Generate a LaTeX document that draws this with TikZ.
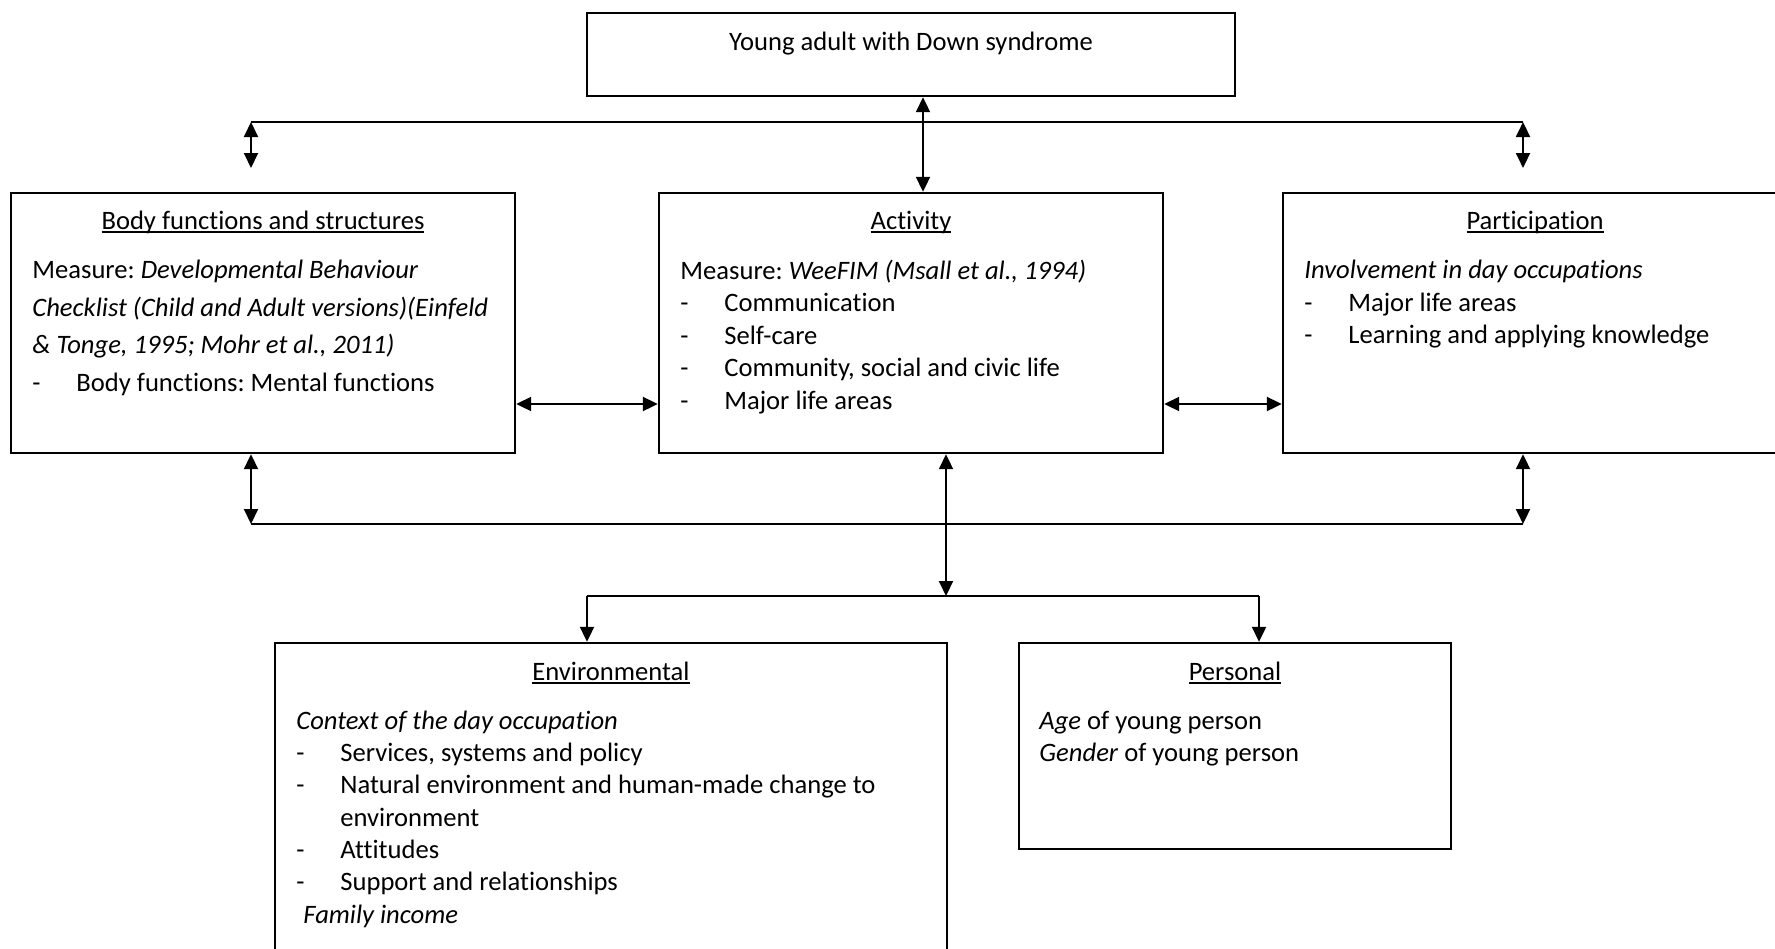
\documentclass[tikz,border=0pt]{standalone}
\usepackage{fontspec}
\setmainfont{Carlito}[Ligatures={NoCommon,NoContextual}]
\usetikzlibrary{arrows.meta,fit}
\frenchspacing
\newcommand\fsz{\fontsize{13.3}{16}\selectfont\frenchspacing}
\newcommand\dashit[1]{\makebox[22pt][l]{-}#1}
\newsavebox\ulbox
\newcommand\ulx[1]{\sbox\ulbox{#1}\rlap{\rule[-1.9pt]{\wd\ulbox}{0.8pt}}\usebox\ulbox}
\begin{document}
\begin{tikzpicture}[x=0.5pt,y=-0.5pt,
  box/.style={draw, line width=1.2pt, inner sep=0pt},
  txt/.style={anchor=base west, inner sep=0pt, font=\fsz},
  ttl/.style={anchor=base, inner sep=0pt, font=\fsz},
  conn/.style={line width=1pt},
  dbl/.style={line width=1pt, {Triangle[length=7.5pt,width=7pt]}-{Triangle[length=7.5pt,width=7pt]}},
  sgl/.style={line width=1pt, -{Triangle[length=7.5pt,width=7pt]}}]
\useasboundingbox (0,0) rectangle (1775,948);
\fill[white] (0,0) rectangle (1775,948);
\clip (0,0) rectangle (1775,948);

% boxes
\node[box, fit={(587,13) (1235,96)}] (top) {};
\node[box, fit={(11,193) (515,453)}] (body) {};
\node[box, fit={(659,193) (1163,453)}] (act) {};
\node[box, fit={(1283,193) (1787,453)}] (part) {};
\node[box, fit={(275,643) (947,975)}] (env) {};
\node[box, fit={(1019,643) (1451,849)}] (pers) {};

% texts
\node[ttl] (ttop) at (911,50) {Young adult with Down syndrome};

\node[ttl] (tbody) at (263,229) {\ulx{Body functions and structures}};
\node[txt] (b1) at (32,278) {Measure: \textit{Developmental Behaviour}};
\node[txt] (b2) at (32,316) {\textit{Checklist (Child and Adult versions)(Einfeld}};
\node[txt] (b3) at (32,353) {\textit{\& Tonge, 1995; Mohr et al., 2011)}};
\node[txt] (b4) at (32,391) {\dashit{Body functions: Mental functions}};

\node[ttl] (tact) at (911,229) {\ulx{Activity}};
\node[txt] (a1) at (680,279) {Measure: \textit{WeeFIM (Msall et al., 1994)}};
\node[txt] (a2) at (680,311.5) {\dashit{Communication}};
\node[txt] (a3) at (680,344) {\dashit{Self-care}};
\node[txt] (a4) at (680,376.5) {\dashit{Community, social and civic life}};
\node[txt] (a5) at (680,409) {\dashit{Major life areas}};

\node[ttl] (tpart) at (1535,229) {\ulx{Participation}};
\node[txt] (p1) at (1304,278) {\textit{Involvement in day occupations}};
\node[txt] (p2) at (1304,311) {\dashit{Major life areas}};
\node[txt] (p3) at (1304,343) {\dashit{Learning and applying knowledge}};

\node[ttl] (tenv) at (611,680) {\ulx{Environmental}};
\node[txt] (e1) at (296,729) {\textit{Context of the day occupation}};
\node[txt] (e2) at (296,761.3) {\dashit{Services, systems and policy}};
\node[txt] (e3) at (296,793.6) {\dashit{Natural environment and human-made change to}};
\node[txt] (e4) at (296,826) {\hspace*{22pt}environment};
\node[txt] (e5) at (296,858.3) {\dashit{Attitudes}};
\node[txt] (e6) at (296,890.6) {\dashit{Support and relationships}};
\node[txt] (e7) at (303,923) {\textit{Family income}};

\node[ttl] (tpers) at (1235,680) {\ulx{Personal}};
\node[txt] (s1) at (1039,729) {\textit{Age} of young person};
\node[txt] (s2) at (1039,761) {\textit{Gender} of young person};

% connector coordinates
\coordinate (tl) at (251,122);
\coordinate (tr) at (1523,122);
\coordinate (tla) at (251,168);
\coordinate (tra) at (1523,168);
\coordinate (cx) at (923,0);
\coordinate (hy) at (0,404);
\coordinate (bl) at (251,524);
\coordinate (br) at (1523,524);
\coordinate (cb) at (946,596);
\coordinate (bl2) at (587,596);
\coordinate (br2) at (1259,596);

% top connectors
\draw[conn] (tl) -- (tr);
\draw[dbl] (tl) -- (tla);
\draw[dbl] (tr) -- (tra);
\draw[dbl] (cx |- top.south) -- (cx |- act.north);

% horizontal
\draw[dbl] (body.east |- hy) -- (act.west |- hy);
\draw[dbl] (act.east |- hy) -- (part.west |- hy);

% bottom connectors
\draw[conn] (bl) -- (br);
\draw[dbl] (bl |- body.south) -- (bl);
\draw[dbl] (br |- part.south) -- (br);
\draw[dbl] (cb |- act.south) -- (cb);
\draw[conn] (bl2) -- (br2);
\draw[sgl] (bl2) -- (bl2 |- env.north);
\draw[sgl] (br2) -- (br2 |- pers.north);
\end{tikzpicture}
\end{document}
